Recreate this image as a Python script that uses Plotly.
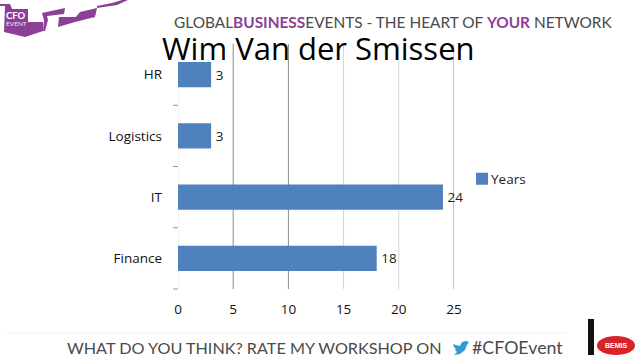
import plotly.graph_objects as go

categories = ["Finance", "IT", "Logistics", "HR"]
years = [18, 24, 3, 3]
x_ticks = [0, 5, 10, 15, 20, 25]
series_name = "Years"
title_text = "Wim Van der Smissen"

W, H = 638, 359
L, R, T, B = 178, 454, 44, 289

def px(x): return (x - L) / (R - L)
def py(y): return (B - y) / (B - T)

def path(points):
    return "M " + " L ".join(f"{px(x):.4f},{py(y):.4f}" for x, y in points) + " Z"

PURPLE = "#8B3F96"
shapes = []

# gridlines, drawn with the reference's uneven tones
grid_colors = {5: "#8a8a8a", 10: "#8a8a8a", 15: "#d4d4d4", 20: "#d4d4d4", 25: "#8a8a8a"}
for v, c in grid_colors.items():
    shapes.append(dict(type="line", xref="x", yref="paper", x0=v, x1=v, y0=0, y1=1,
                       line=dict(color=c, width=1), layer="below"))
shapes.append(dict(type="line", xref="x", yref="paper", x0=0, x1=0, y0=0, y1=1,
                   line=dict(color="#e8e8e8", width=1), layer="below"))
# y-axis tick marks between categories
for i in range(0, 4):
    yy = B - i * (B - T) / 4
    shapes.append(dict(type="line", xref="paper", yref="paper", x0=px(173), x1=px(178),
                       y0=py(yy), y1=py(yy), line=dict(color="#9a9a9a", width=1)))

# logo ribbon
body = [(0, 4), (10, 4), (12, 9), (28, 9), (28, 22), (43, 22), (43, 31), (25, 37), (4, 32), (5, 6), (0, 6)]
fold = [(42, 13), (65, 8), (64, 14), (47, 16), (48, 20), (45, 31), (43, 31), (44, 20)]
band = [(59, 17), (76, 17), (80, 12), (97, 8), (95, 17), (75, 22), (58, 27)]
tail = [(97, 8), (117, 5), (128, 0), (122, 0), (112, 3), (97, 6)]
for pts in (body, fold, band, tail):
    shapes.append(dict(type="path", xref="paper", yref="paper", path=path(pts),
                       fillcolor=PURPLE, line=dict(width=0), layer="below"))

# footer rule and Bemis mark
shapes.append(dict(type="line", xref="paper", yref="paper", x0=px(5), x1=px(567), y0=py(333), y1=py(333),
                   line=dict(color="#f2f2f2", width=1)))
shapes.append(dict(type="rect", xref="paper", yref="paper", x0=px(588), x1=px(594), y0=py(355), y1=py(319),
                   fillcolor="#111111", line=dict(width=0)))
shapes.append(dict(type="circle", xref="paper", yref="paper", x0=px(597), x1=px(635), y0=py(355), y1=py(336),
                   fillcolor="#D8232A", line=dict(width=0)))
# bird
bird = [(453, 344), (456, 345), (460, 346), (462, 342), (466, 341), (469, 342), (467, 345), (465, 350),
        (460, 354), (454, 355), (457, 352), (455, 350), (456, 349), (454, 347)]
shapes.append(dict(type="path", xref="paper", yref="paper", path=path(bird),
                   fillcolor="#2E9BD6", line=dict(width=0)))

def note(x, y, text, size, color="#4a4a4a", family="Lato", anchor="left"):
    return dict(xref="paper", yref="paper", x=px(x), y=py(y), text=text, showarrow=False,
                xanchor=anchor, yanchor="middle", font=dict(family=family, size=size, color=color),
                borderpad=0, borderwidth=0)

annotations = [
    note(318, 48, title_text, 31, "#000000", "Open Sans", "center"),
    note(174, 22, 'GLOBAL<b><span style="color:#8B3F96">BUSINESS</span></b>EVENTS - THE HEART OF '
                  '<b><span style="color:#8B3F96">YOUR</span></b> NETWORK', 15.4),
    note(67, 347, "WHAT DO YOU THINK? RATE MY WORKSHOP ON", 16.2),
    note(472, 347, "#CFOEvent", 17.8),
    note(616, 345.5, "<b>BEMIS</b>", 7, "#ffffff", "Liberation Sans", "center"),
    note(6, 16, "<b>CFO</b>", 9.5, "#ffffff", "Lato"),
    note(6, 24, "EVENT", 6.5, "#f2e6f4", "Lato"),
]

fig = go.Figure(go.Bar(
    y=categories, x=years, orientation="h", name=series_name,
    marker=dict(color="#4F81BD", line=dict(width=0)),
    text=[str(v) for v in years], textposition="outside",
    textfont=dict(family="Open Sans", size=13.5, color="#222222"),
    cliponaxis=False, showlegend=True,
))
fig.update_layout(
    width=W, height=H, autosize=False,
    margin=dict(l=L, r=W - R, t=T, b=H - B, pad=0),
    paper_bgcolor="white", plot_bgcolor="rgba(0,0,0,0)",
    font=dict(family="Open Sans", size=13.5, color="#222222"),
    bargap=0.59, shapes=shapes, annotations=annotations,
    showlegend=True,
    legend=dict(x=px(462), y=py(179), xanchor="left", yanchor="middle",
                font=dict(family="Open Sans", size=13.5, color="#222222"),
                bgcolor="rgba(0,0,0,0)", itemwidth=30),
    xaxis=dict(range=[0, 25], tickvals=x_ticks, showgrid=False, zeroline=False, showline=False,
               ticks="", tickfont=dict(family="Open Sans", size=13.5, color="#111111"), ticklabelstandoff=10),
    yaxis=dict(showgrid=False, zeroline=False, showline=False, ticks="",
               tickfont=dict(family="Open Sans", size=13.5, color="#111111"), ticklabelstandoff=15),
)
fig.write_html("out.html", config={"displayModeBar": False}, post_script="""
document.documentElement.style.overflow='hidden';
document.body.style.margin='0';
document.querySelectorAll('.legendtext').forEach(function(t){
  t.setAttribute('x', parseFloat(t.getAttribute('x')) - 11);
});
document.querySelectorAll('.bartext').forEach(function(t){
  t.setAttribute('transform', 'translate(1.5,0) ' + (t.getAttribute('transform') || ''));
});
""")
